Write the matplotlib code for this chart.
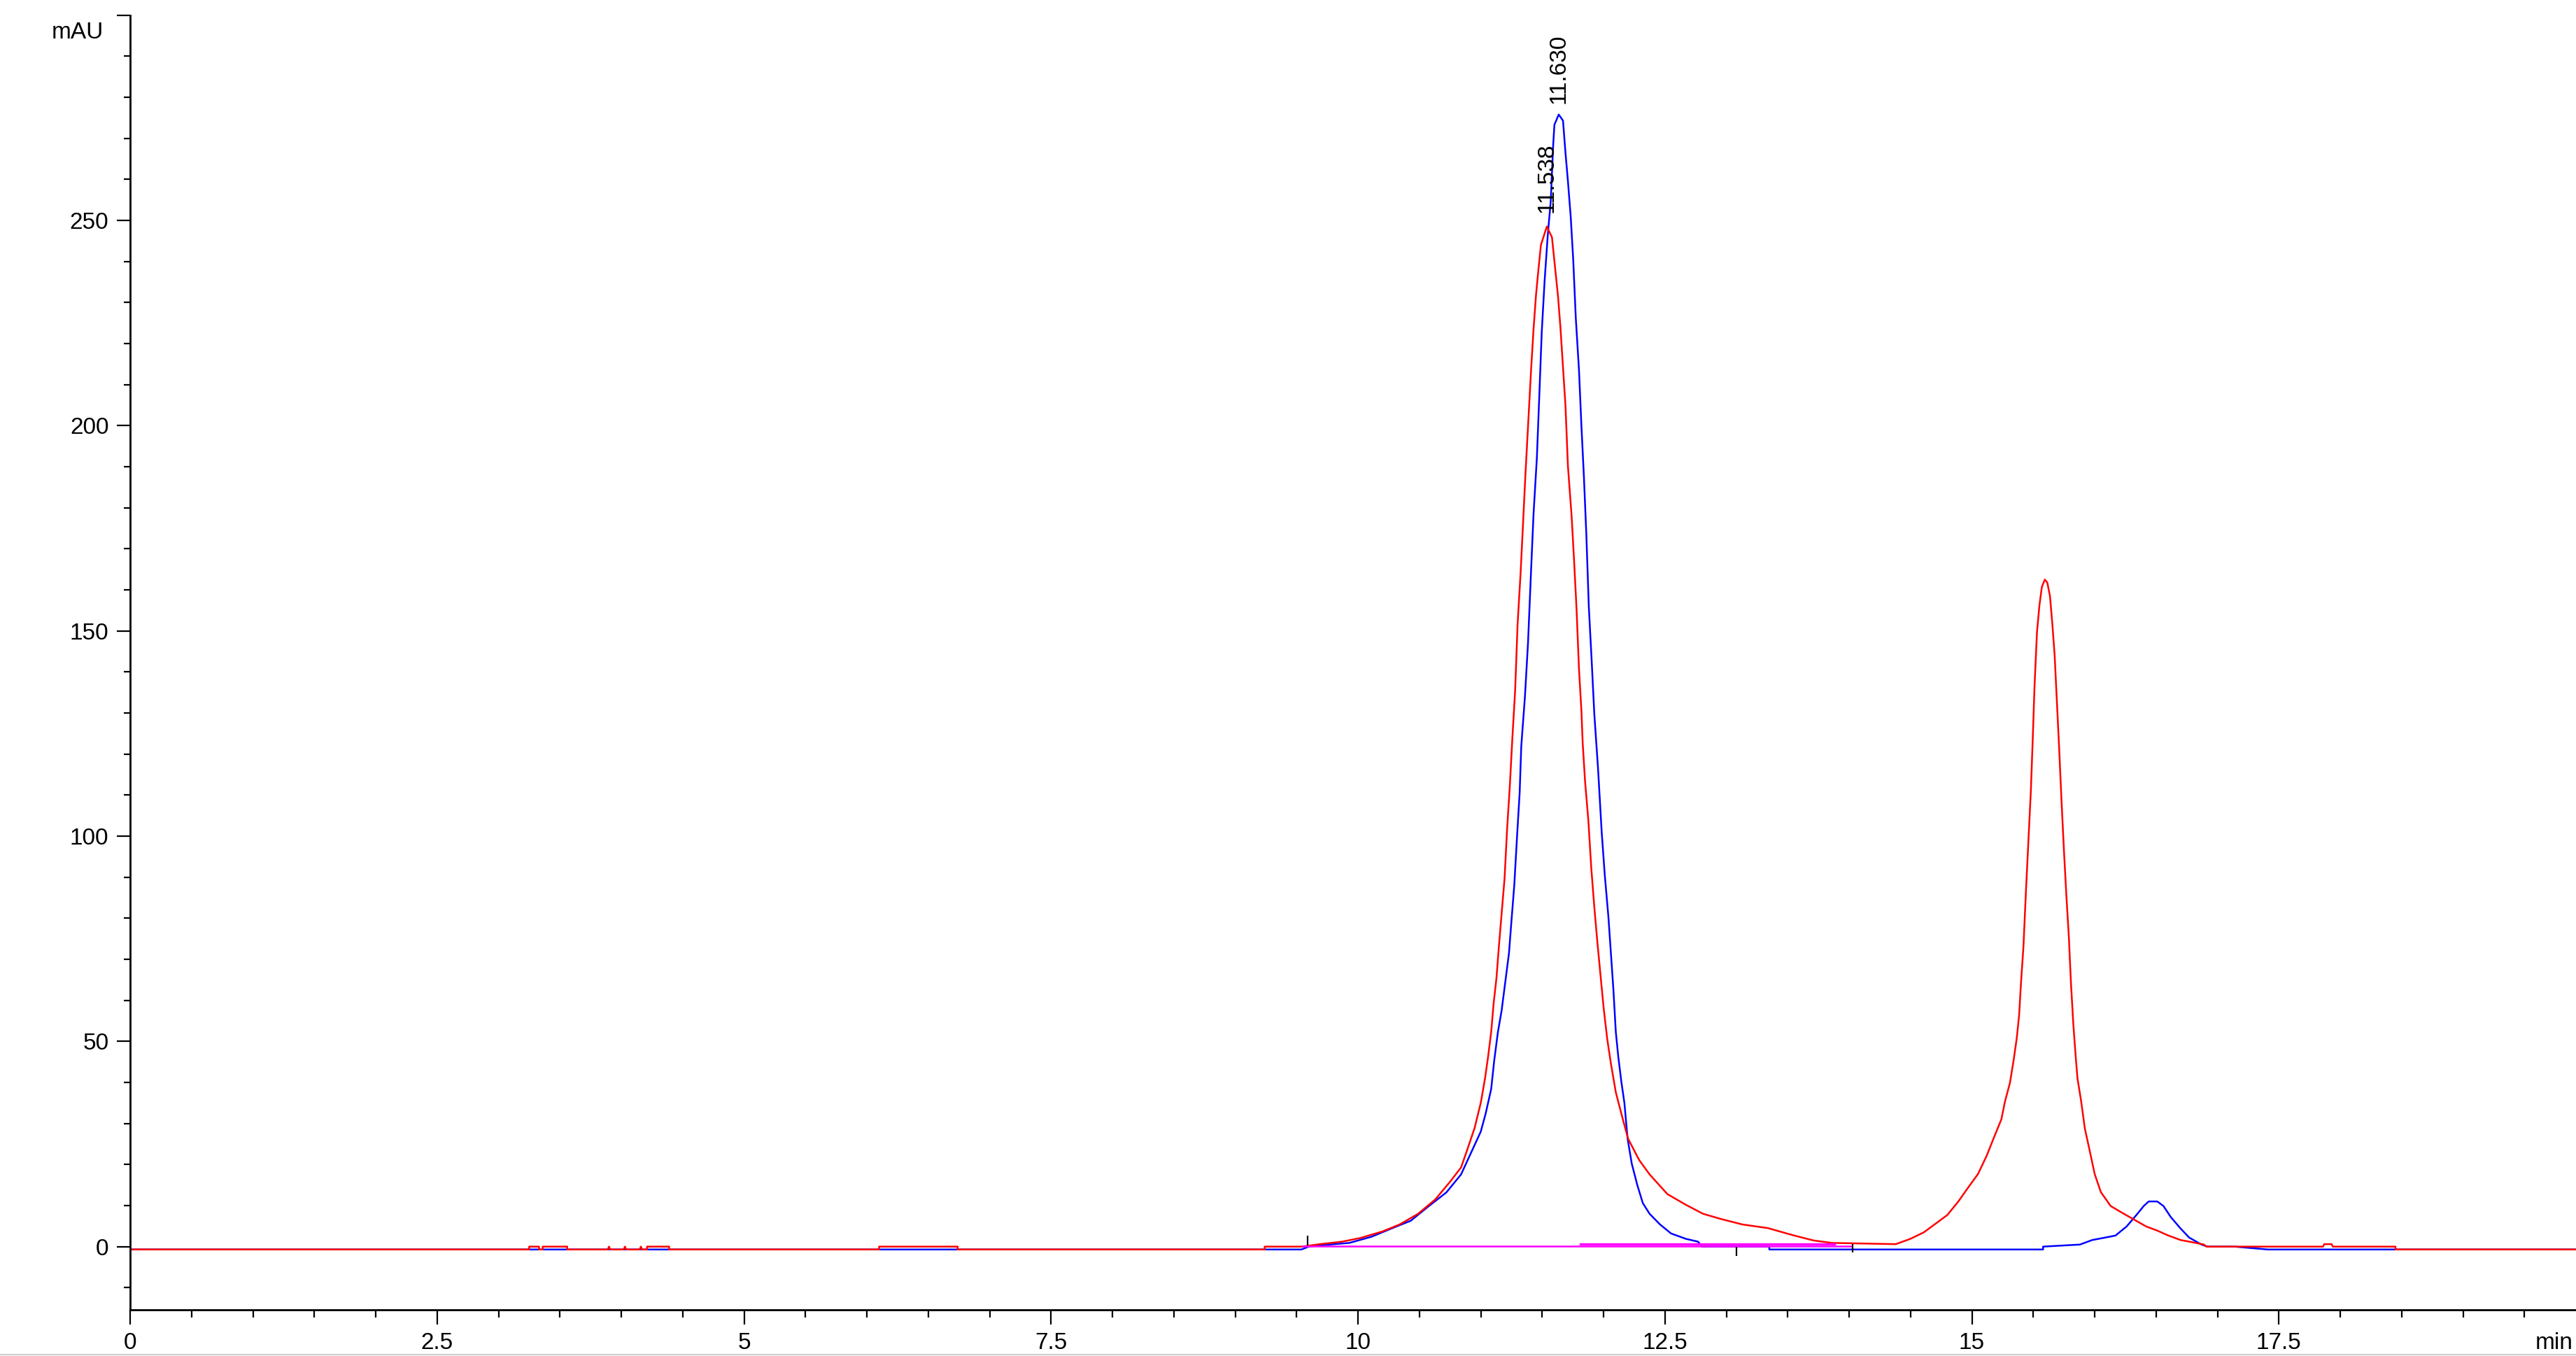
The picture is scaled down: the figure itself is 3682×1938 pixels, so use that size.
import matplotlib
matplotlib.use("Agg")
import matplotlib.pyplot as plt
from matplotlib.ticker import MultipleLocator
from matplotlib.lines import Line2D

plt.rcParams['font.family'] = ['Liberation Sans', 'DejaVu Sans']

# red trace (time in min, signal in mAU)
red_t = [0.0, 3.25, 3.25, 3.33, 3.33, 3.36, 3.36, 3.56, 3.56, 3.89, 3.90, 3.91,
         4.02, 4.03, 4.04, 4.15, 4.16, 4.17, 4.21, 4.21, 4.39, 4.39,
         6.10, 6.10, 6.74, 6.74, 9.24, 9.24, 9.54,
         9.69, 9.87, 10.02, 10.20, 10.34, 10.49, 10.63, 10.75, 10.84, 10.89,
         10.95, 11.00, 11.035, 11.06, 11.085, 11.105, 11.128, 11.148, 11.17, 11.194,
         11.215, 11.237, 11.257, 11.28, 11.30, 11.325, 11.345, 11.365, 11.385, 11.41,
         11.43, 11.45, 11.47, 11.49, 11.538, 11.58, 11.607, 11.63, 11.65, 11.67,
         11.69, 11.71, 11.74, 11.76, 11.78, 11.80, 11.82, 11.83, 11.85, 11.877,
         11.90, 11.925, 11.95, 11.975, 12.0, 12.03, 12.06, 12.10, 12.145, 12.20,
         12.29, 12.375, 12.52, 12.67, 12.81, 12.96, 13.13, 13.34, 13.54, 13.71,
         13.86, 14.38, 14.50, 14.61, 14.70, 14.80, 14.89, 14.97, 15.05, 15.12,
         15.18, 15.24, 15.27, 15.31, 15.34, 15.366, 15.385, 15.40, 15.42, 15.44,
         15.46, 15.48, 15.495, 15.51, 15.53, 15.55, 15.57, 15.594, 15.614, 15.636,
         15.655, 15.674, 15.69, 15.71, 15.73, 15.75, 15.77, 15.79, 15.807, 15.826,
         15.845, 15.86, 15.89, 15.92, 15.96, 16.0, 16.05, 16.13, 16.22, 16.32,
         16.42, 16.51, 16.60, 16.70, 16.79, 16.89, 16.91, 17.86, 17.87, 17.93,
         17.94, 18.45, 18.45, 19.92]
red_v = [-0.7, -0.7, 0.0, 0.0, -0.7, -0.7, 0.0, 0.0, -0.7, -0.7, 0.0, -0.7,
         -0.7, 0.0, -0.7, -0.7, 0.0, -0.7, -0.7, 0.0, 0.0, -0.7,
         -0.7, 0.0, 0.0, -0.7, -0.7, 0.0, 0.0,
         0.6, 1.2, 2.1, 3.7, 5.4, 8.0, 11.5, 15.8, 19.3, 23.6,
         28.9, 35.0, 41.0, 46.3, 52.3, 59.3, 65.4, 73.2, 81.0, 89.7,
         101.9, 112.3, 123.6, 135.4, 151.6, 164.3, 176.5, 188.7, 199.9, 213.6,
         223.5, 231.8, 238.1, 244.0, 248.5, 245.9, 238.1, 231.3, 223.5, 214.1,
         204.9, 190.2, 178.0, 167.2, 155.5, 140.8, 130.5, 122.8, 113.2, 103.6,
         92.3, 82.7, 74.1, 66.2, 58.4, 50.6, 44.6, 37.6, 32.4, 26.3,
         21.1, 17.6, 12.8, 10.2, 8.0, 6.7, 5.4, 4.5, 2.8, 1.5,
         0.9, 0.6, 1.9, 3.5, 5.5, 7.7, 11.0, 14.4, 17.7, 22.1,
         26.6, 31.0, 35.4, 39.9, 45.4, 50.9, 56.5, 64.2, 73.1, 86.4,
         98.6, 110.8, 123.0, 136.3, 149.6, 156.2, 160.7, 162.5, 161.8, 158.5,
         151.8, 144.1, 134.1, 121.9, 108.6, 96.4, 85.3, 75.3, 64.2, 54.3,
         46.5, 41.0, 35.4, 28.8, 23.3, 17.7, 13.3, 9.9, 8.3, 6.6,
         4.9, 3.9, 2.7, 1.6, 1.1, 0.5, 0.0, 0.0, 0.6, 0.6,
         0.0, 0.0, -0.7, -0.7]

# blue trace
blue_t = [0.0, 9.54, 9.60, 9.69, 9.93, 10.11, 10.28, 10.43, 10.57, 10.72,
          10.84, 10.92, 11.00, 11.04, 11.085, 11.11, 11.14, 11.17, 11.20, 11.23,
          11.25, 11.273, 11.296, 11.317, 11.33, 11.36, 11.385, 11.41, 11.43, 11.457,
          11.475, 11.497, 11.52, 11.546, 11.57, 11.59, 11.60, 11.635, 11.67, 11.69,
          11.71, 11.733, 11.753, 11.774, 11.80, 11.82, 11.84, 11.86, 11.88, 11.905,
          11.925, 11.955, 11.985, 12.01, 12.04, 12.06, 12.08, 12.10, 12.12, 12.145,
          12.17, 12.196, 12.23, 12.275, 12.32, 12.375, 12.46, 12.55, 12.67, 12.77,
          12.80, 13.35, 13.35, 15.58, 15.58, 15.88, 15.98, 16.12, 16.17, 16.26,
          16.34, 16.40, 16.44, 16.51, 16.56, 16.62, 16.70, 16.77, 16.87, 16.92,
          17.14, 17.41, 19.92]
blue_v = [-0.7, -0.7, 0.0, 0.3, 0.9, 2.4, 4.5, 6.3, 9.7, 13.2,
          17.6, 22.8, 28.0, 32.4, 38.4, 45.4, 52.3, 57.5, 64.5, 71.5,
          79.3, 88.0, 100.1, 110.6, 121.9, 134.0, 147.1, 164.8, 178.5, 192.1,
          205.8, 222.9, 235.2, 246.5, 254.7, 268.4, 273.3, 275.8, 274.3, 266.5,
          259.6, 250.8, 240.5, 226.3, 213.6, 199.9, 187.7, 173.5, 156.0, 141.8,
          129.7, 116.6, 101.0, 90.6, 80.2, 71.5, 62.8, 52.3, 46.3, 40.2,
          35.0, 26.3, 20.2, 15.0, 10.6, 8.0, 5.4, 3.2, 1.9, 1.2,
          0.0, 0.0, -0.7, -0.7, 0.0, 0.5, 1.6, 2.4, 2.7, 4.9,
          7.7, 9.9, 11.0, 11.0, 9.9, 7.2, 4.4, 2.2, 0.5, 0.0,
          0.0, -0.7, -0.7]

# integration baselines (magenta)
base1_t = [9.55, 14.02]
base1_v = [0.1, 0.1]
base2_t = [11.81, 13.88]
base2_v = [0.6, 0.6]

# integration event marks
event_t = [9.59, 13.08, 14.03]
event_lo = [0.3, -2.3, -1.5]
event_hi = [2.6, 0.0, 0.6]

# peak labels
peak_t = [11.538, 11.635]
peak_v = [248.5, 275.8]
peak_labels = ['11.538', '11.630']
peak_offsets = [20, 16]

x_ticks = [0, 2.5, 5, 7.5, 10, 12.5, 15, 17.5]
x_tick_labels = ['0', '2.5', '5', '7.5', '10', '12.5', '15', '17.5']
y_ticks = [0, 50, 100, 150, 200, 250, 300]
y_tick_labels = ['0', '50', '100', '150', '200', '250', '']

W, H = 3682, 1938
fig = plt.figure(figsize=(W / 100, H / 100), dpi=100)
ax = fig.add_axes([186 / W, 1 - 1872 / H, (W - 186) / W, (1872 - 21.7) / H])

ax.plot(blue_t, blue_v, color='#0000ff', lw=1.8)
ax.plot(red_t, red_v, color='#ff0000', lw=1.8)
ax.plot(base1_t, base1_v, color='#ff00ff', lw=1.8)
ax.plot(base2_t, base2_v, color='#ff00ff', lw=2.4)
ax.vlines(event_t, event_lo, event_hi, color='black', lw=1.6)

for t, v, lab, off in zip(peak_t, peak_v, peak_labels, peak_offsets):
    ax.annotate(lab, xy=(t, v), xytext=(0, off), textcoords='offset pixels',
                rotation=90, ha='center', va='bottom', fontsize=24)

ax.set_xlim(0, (W - 186) / 175.5)
ax.set_ylim(-15.4, 300)

for s in ['top', 'right']:
    ax.spines[s].set_visible(False)
for s in ['left', 'bottom']:
    ax.spines[s].set_linewidth(2.0)

ax.set_xticks(x_ticks)
ax.set_xticklabels(x_tick_labels)
ax.set_yticks(y_ticks)
ax.set_yticklabels(y_tick_labels)
ax.xaxis.set_minor_locator(MultipleLocator(0.5))
ax.yaxis.set_minor_locator(MultipleLocator(10))
ax.tick_params(axis='x', which='major', length=15, width=1.6, pad=8, labelsize=24)
ax.tick_params(axis='x', which='minor', length=8, width=1.6)
ax.tick_params(axis='y', which='major', length=14, width=1.6, pad=8, labelsize=24)
ax.tick_params(axis='y', which='minor', length=6.5, width=1.6)

ax.annotate('mAU', xy=(0, 300), xycoords='data', xytext=(-38, -25),
            textcoords='offset pixels', ha='right', va='center', fontsize=24,
            annotation_clip=False)
ax.annotate('min', xy=(19.59, 0), xycoords=('data', 'axes fraction'),
            xytext=(0, -32), textcoords='offset pixels', ha='left', va='top',
            fontsize=24, annotation_clip=False)

fig.add_artist(Line2D([0, 1], [0.0008, 0.0008], color='#cccccc', lw=1.5))

fig.savefig('out.png', dpi=100, facecolor='white')
